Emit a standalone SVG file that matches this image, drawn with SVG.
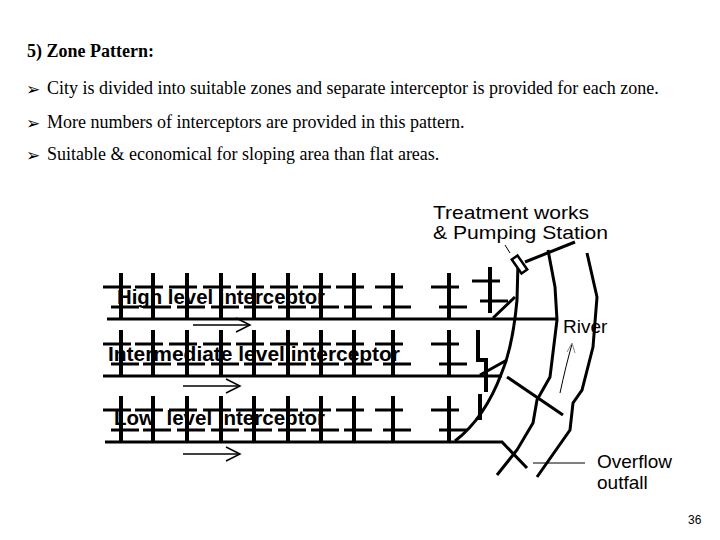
<svg xmlns="http://www.w3.org/2000/svg" width="720" height="540" viewBox="0 0 720 540">
<style>
.t{font-family:"Liberation Serif",serif;font-size:18px;fill:#000}
.b{font-family:"DejaVu Sans",sans-serif;font-size:17px}
.a{font-family:"Liberation Sans",Arial,sans-serif;fill:#000}
.lbl{font-family:"Liberation Sans",Arial,sans-serif;font-weight:bold;font-size:21px}
.k{stroke:#000;stroke-width:4;fill:none}
.m{stroke:#000;stroke-width:3;fill:none}
.thin{stroke:#000;stroke-width:1.5;fill:none}
</style>
<defs>
<g id="br">
<line x1="0" y1="0" x2="0" y2="46" class="k"/>
<line x1="-18" y1="14" x2="10" y2="14" class="m"/>
<line x1="-10" y1="34" x2="18" y2="34" class="m"/>
</g>
</defs>
<rect width="720" height="540" fill="#fff"/>
<g id="text">
<text class="t" x="27" y="57" font-weight="bold">5) Zone Pattern:</text>
<text class="b" x="26" y="95">➢</text><text class="t" x="47" y="94">City is divided into suitable zones and separate interceptor is provided for each zone.</text>
<text class="b" x="26" y="129">➢</text><text class="t" x="47" y="128">More numbers of interceptors are provided in this pattern.</text>
<text class="b" x="26" y="161">➢</text><text class="t" x="47" y="160">Suitable &amp; economical for sloping area than flat areas.</text>
<text class="a" x="688" y="524" font-size="12">36</text>
</g>
<g id="branches">
<use href="#br" x="121" y="273"/><use href="#br" x="153" y="273"/><use href="#br" x="187" y="273"/><use href="#br" x="221" y="273"/><use href="#br" x="254" y="273"/><use href="#br" x="288" y="273"/><use href="#br" x="321" y="273"/><use href="#br" x="354" y="273"/><use href="#br" x="393" y="273"/><use href="#br" x="449" y="273"/><use href="#br" x="490" y="267"/>
<use href="#br" x="121" y="330"/><use href="#br" x="153" y="330"/><use href="#br" x="187" y="330"/><use href="#br" x="221" y="330"/><use href="#br" x="254" y="330"/><use href="#br" x="288" y="330"/><use href="#br" x="321" y="330"/><use href="#br" x="354" y="330"/><use href="#br" x="393" y="330"/><use href="#br" x="449" y="330"/>
<use href="#br" x="121" y="396"/><use href="#br" x="153" y="396"/><use href="#br" x="187" y="396"/><use href="#br" x="221" y="396"/><use href="#br" x="254" y="396"/><use href="#br" x="288" y="396"/><use href="#br" x="321" y="396"/><use href="#br" x="354" y="396"/><use href="#br" x="393" y="396"/><use href="#br" x="449" y="396"/>
<polyline points="478,330 478,360 486,360 486,392" class="k"/>
<line x1="480" y1="394" x2="480" y2="420" class="k"/>
</g>
<g id="connectors">
<line x1="107" y1="319" x2="557" y2="319" class="m"/>
<line x1="103" y1="376" x2="502" y2="376" class="m"/>
<polyline points="105,442 502,442 527,468" class="m"/>
<path d="M518,263 L517,300 Q513,345 502,372 Q485,418 455,441" class="m"/>
<line x1="493" y1="318" x2="515" y2="297" class="m"/>
<line x1="480" y1="375" x2="507" y2="360" class="m"/>
<line x1="507" y1="377" x2="563" y2="415" class="m"/>
<line x1="525" y1="262" x2="575" y2="242" class="m"/>
<rect x="511" y="261" width="17" height="7" transform="rotate(55 519.5 264.5)" fill="#fff" stroke="#000" stroke-width="2.5"/>
<polyline points="548,250 555,287 557,320 550,377 537,400 533,423 517,450 497,475" class="m"/>
<polyline points="587,253 597,297 593,347 582,390 573,403 570,430 537,477" class="m"/>
<line x1="505" y1="245" x2="510" y2="253" stroke="#000" stroke-width="1"/>
<line x1="533" y1="463" x2="585" y2="463" stroke="#000" stroke-width="1.2"/>
<path d="M560,393 Q566,365 572,344" stroke="#000" stroke-width="1" fill="none"/>
<polyline points="567,352 572,343 575,353" stroke="#888" stroke-width="1" fill="none"/>
<line x1="193" y1="325" x2="250" y2="325" class="thin"/><polyline points="236,318 250,325 236,332" class="thin"/>
<line x1="183" y1="386" x2="240" y2="386" class="thin"/><polyline points="226,379 240,386 226,393" class="thin"/>
<line x1="183" y1="454" x2="240" y2="454" class="thin"/><polyline points="226,447 240,454 226,461" class="thin"/>
</g>
<g id="labels">
<text class="lbl" x="117" y="304" textLength="208" lengthAdjust="spacingAndGlyphs">High level interceptor</text>
<text class="lbl" x="108" y="361" textLength="292" lengthAdjust="spacingAndGlyphs">Intermediate level interceptor</text>
<text class="lbl" x="114" y="425" textLength="211" lengthAdjust="spacingAndGlyphs" xml:space="preserve">Low  level interceptor</text>
<text class="a" x="433" y="219" font-size="19" textLength="156" lengthAdjust="spacingAndGlyphs">Treatment works</text>
<text class="a" x="433" y="239" font-size="19" textLength="175" lengthAdjust="spacingAndGlyphs">&amp; Pumping Station</text>
<text class="a" x="563" y="333" font-size="19">River</text>
<text class="a" x="597" y="468" font-size="19">Overflow</text>
<text class="a" x="597" y="489" font-size="19">outfall</text>
</g>
</svg>
